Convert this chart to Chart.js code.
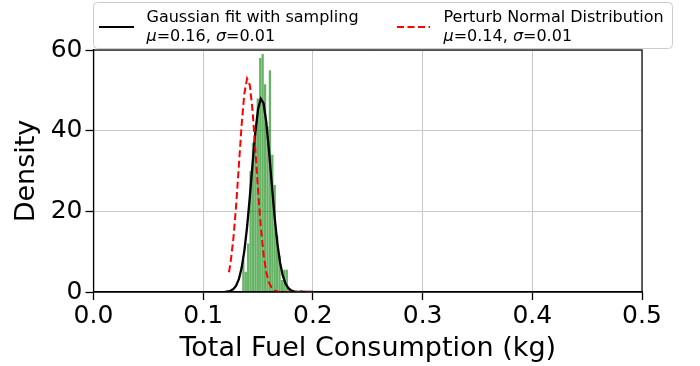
<!DOCTYPE html>
<html>
<head>
<meta charset="utf-8">
<script src="https://cdn.jsdelivr.net/npm/chart.js@4.4.1/dist/chart.umd.min.js"></script>
<style>
  html, body { margin: 0; padding: 0; background: #ffffff; }
  #wrap { width: 700px; height: 366px; }
</style>
</head>
<body>
<div id="wrap"><canvas id="c" width="700" height="366"></canvas></div>
<script>
// ---- data ----
const binCenters = [0.1366, 0.1388, 0.1410, 0.1432, 0.1454, 0.1476, 0.1498, 0.1520, 0.1542, 0.1564,
                    0.1586, 0.1608, 0.1630, 0.1652, 0.1674, 0.1696, 0.1718, 0.1740, 0.1762, 0.1784,
                    0.1806, 0.1828, 0.1850, 0.1872, 0.1894];
const binDensity = [8, 5, 12, 30, 37, 41, 48, 58, 59, 51.5,
                    41, 55, 34, 26.5, 14, 9, 3, 5.5, 5.5, 1,
                    0, 0, 0, 0, 0.5];

const fitX = [0.1200, 0.1225, 0.1250, 0.1275, 0.1300, 0.1325, 0.1350, 0.1375, 0.1400, 0.1425,
              0.1450, 0.1475, 0.1500, 0.1525, 0.1550, 0.1575, 0.1600, 0.1625, 0.1650, 0.1675,
              0.1700, 0.1725, 0.1750, 0.1775, 0.1800, 0.1825, 0.1850, 0.1875, 0.1900, 0.1925,
              0.1950, 0.1975, 0.2000];
const fitY = [0.04, 0.12, 0.30, 0.72, 1.58, 3.18, 5.93, 10.2, 16.1, 23.6,
              31.8, 39.5, 45.3, 47.9, 46.8, 42.1, 35.0, 26.8, 18.9, 12.3,
              7.4, 4.1, 2.1, 1.0, 0.43, 0.17, 0.06, 0.02, 0.01, 0,
              0, 0, 0];

const pertX = [0.1235, 0.1250, 0.1275, 0.1300, 0.1325, 0.1350, 0.1375, 0.1400, 0.1425, 0.1450,
               0.1475, 0.1500, 0.1525, 0.1550, 0.1575, 0.1600, 0.1625, 0.1650, 0.1675, 0.1700,
               0.1725, 0.1750, 0.1775, 0.1800, 0.1825, 0.1850, 0.1875, 0.1900, 0.1925, 0.1950,
               0.1975, 0.2000];
const pertY = [4.9, 7.4, 13.2, 21.4, 31.3, 41.3, 49.2, 52.9, 51.3, 44.9,
               35.4, 25.3, 16.2, 9.4, 4.9, 2.3, 0.99, 0.38, 0.13, 0.04,
               0.01, 0, 0, 0, 0, 0, 0, 0, 0, 0,
               0, 0];

const xTicks = [0.0, 0.1, 0.2, 0.3, 0.4, 0.5];
const yTicks = [0, 20, 40, 60];
const xTitle = 'Total Fuel Consumption (kg)';
const yTitle = 'Density';
const legendEntries = [
  { title: 'Gaussian fit with sampling', mu: '0.16', sigma: '0.01' },
  { title: 'Perturb Normal Distribution', mu: '0.14', sigma: '0.01' }
];

const FONT = "'DejaVu Sans', 'Liberation Sans', sans-serif";

const zip = (xs, ys) => xs.map((x, i) => ({ x: x, y: ys[i] }));

const framePlugin = {
  id: 'frameLegend',
  afterDraw(chart) {
    const ctx = chart.ctx;
    const a = chart.chartArea;
    ctx.save();
    // spines
    ctx.strokeStyle = '#000';
    ctx.lineWidth = 1.2;
    ctx.strokeRect(a.left, a.top, a.right - a.left, a.bottom - a.top);

    // legend box
    const bx = 93.5, by = 2.5, bw = 579, bh = 46, r = 4;
    ctx.beginPath();
    ctx.moveTo(bx + r, by);
    ctx.lineTo(bx + bw - r, by);
    ctx.quadraticCurveTo(bx + bw, by, bx + bw, by + r);
    ctx.lineTo(bx + bw, by + bh - r);
    ctx.quadraticCurveTo(bx + bw, by + bh, bx + bw - r, by + bh);
    ctx.lineTo(bx + r, by + bh);
    ctx.quadraticCurveTo(bx, by + bh, bx, by + bh - r);
    ctx.lineTo(bx, by + r);
    ctx.quadraticCurveTo(bx, by, bx + r, by);
    ctx.closePath();
    ctx.fillStyle = 'rgba(255,255,255,0.85)';
    ctx.fill();
    ctx.strokeStyle = '#cccccc';
    ctx.lineWidth = 1;
    ctx.stroke();

    const entries = [
      { lx0: 99, lx1: 134, tx: 146.5, color: '#000000', dash: [] },
      { lx0: 397, lx1: 430, tx: 443.5, color: '#ff0000', dash: [7, 3.5] }
    ];
    entries.forEach((e, i) => {
      const le = legendEntries[i];
      ctx.beginPath();
      ctx.setLineDash(e.dash);
      ctx.strokeStyle = e.color;
      ctx.lineWidth = 2;
      ctx.moveTo(e.lx0, 27);
      ctx.lineTo(e.lx1, 27);
      ctx.stroke();
      ctx.setLineDash([]);
      ctx.fillStyle = '#000';
      ctx.textBaseline = 'alphabetic';
      ctx.textAlign = 'left';
      ctx.font = '16px ' + FONT;
      ctx.fillText(le.title, e.tx, 22);
      // second line with italic symbols
      let x = e.tx;
      const y2 = 40.5;
      const parts = [
        ['italic', '\u03bc'], ['normal', '=' + le.mu + ', '],
        ['italic', '\u03c3'], ['normal', '=' + le.sigma]
      ];
      parts.forEach(p => {
        ctx.font = (p[0] === 'italic' ? 'oblique ' : '') + '16px ' + FONT;
        ctx.fillText(p[1], x, y2);
        x += ctx.measureText(p[1]).width;
      });
    });
    ctx.restore();
  }
};

const chart = new Chart(document.getElementById('c'), {
  type: 'bar',
  data: {
    datasets: [
      {
        type: 'line',
        label: 'Perturb Normal Distribution',
        data: zip(pertX, pertY),
        borderColor: '#ff0000',
        borderWidth: 2,
        borderDash: [7, 3.5],
        pointRadius: 0,
        fill: false,
        tension: 0,
        order: 0
      },
      {
        type: 'line',
        label: 'Gaussian fit with sampling',
        data: zip(fitX, fitY),
        borderColor: '#000000',
        borderWidth: 2.3,
        pointRadius: 0,
        fill: false,
        tension: 0,
        order: 1
      },
      {
        type: 'bar',
        label: 'Histogram',
        data: zip(binCenters, binDensity),
        backgroundColor: 'rgba(0,128,0,0.6)',
        borderWidth: 0,
        barPercentage: 0.95,
        categoryPercentage: 1.0,
        order: 2
      }
    ]
  },
  options: {
    responsive: false,
    animation: false,
    layout: { padding: { left: 0, right: 58, top: 50, bottom: 0 } },
    plugins: { legend: { display: false }, tooltip: { enabled: false } },
    scales: {
      x: {
        type: 'linear',
        min: 0, max: 0.5,
        offset: false,
        afterBuildTicks: s => { s.ticks = xTicks.map(v => ({ value: v })); },
        afterFit: s => { s.height = 74; },
        ticks: {
          callback: v => Number(v).toFixed(1),
          font: { family: FONT, size: 25 },
          color: '#000',
          padding: 1,
          maxRotation: 0
        },
        grid: {
          offset: false,
          color: '#c8c8c8',
          lineWidth: 1,
          tickColor: '#000',
          tickLength: 8,
          tickWidth: 1.3
        },
        border: { display: true, color: '#000', width: 1.2 },
        title: {
          display: true,
          text: xTitle,
          font: { family: FONT, size: 27, lineHeight: 1 },
          color: '#000',
          padding: { top: 0, bottom: 4 }
        }
      },
      y: {
        type: 'linear',
        min: 0, max: 60,
        afterBuildTicks: s => { s.ticks = yTicks.map(v => ({ value: v })); },
        afterFit: s => { s.width = 93.5; },
        ticks: {
          font: { family: FONT, size: 25 },
          color: '#000',
          padding: 3
        },
        grid: {
          color: '#c8c8c8',
          lineWidth: 1,
          tickColor: '#000',
          tickLength: 8,
          tickWidth: 1.3
        },
        border: { display: true, color: '#000', width: 1.2 },
        title: {
          display: true,
          text: yTitle,
          font: { family: FONT, size: 27, lineHeight: 1 },
          color: '#000',
          padding: { top: 13, bottom: 0 }
        }
      }
    }
  },
  plugins: [framePlugin]
});
</script>
</body>
</html>
